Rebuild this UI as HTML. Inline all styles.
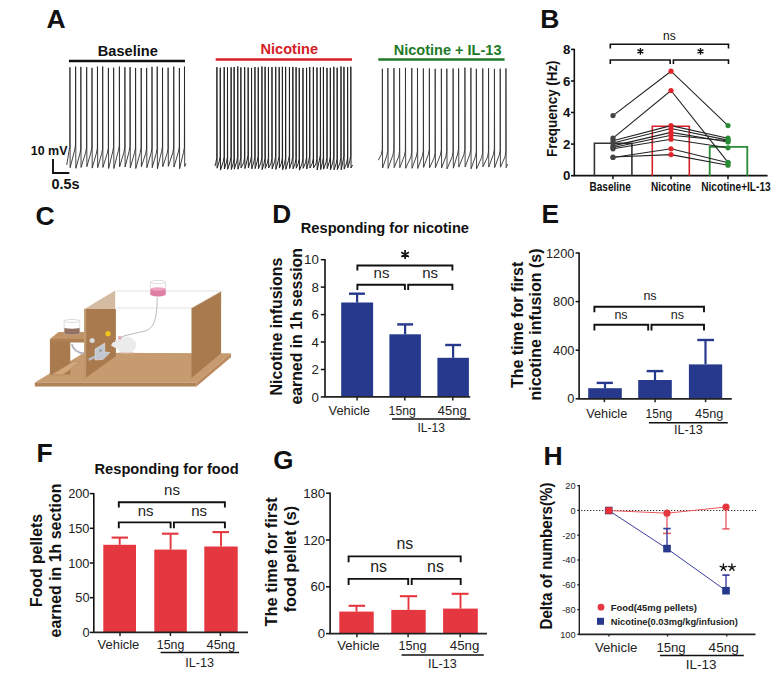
<!DOCTYPE html>
<html><head><meta charset="utf-8"><style>
html,body{margin:0;padding:0;background:#fff;width:777px;height:675px;overflow:hidden}
svg{display:block}
text{font-family:"Liberation Sans", sans-serif;}
</style></head><body>
<svg width="777" height="675" viewBox="0 0 777 675">
<rect width="777" height="675" fill="#fff"/>
<text x="46.5" y="28.4" font-size="26.5" font-weight="bold" text-anchor="start" fill="#111" >A</text>
<text x="97.8" y="55.5" font-size="15.3" font-weight="bold" text-anchor="start" fill="#111" textLength="60.0" lengthAdjust="spacingAndGlyphs" >Baseline</text>
<line x1="68.9" y1="61.0" x2="185.0" y2="61.0" stroke="#111" stroke-width="2.3" />
<text x="260.5" y="53.8" font-size="15.3" font-weight="bold" text-anchor="start" fill="#d42027" textLength="57.5" lengthAdjust="spacingAndGlyphs" >Nicotine</text>
<line x1="215.7" y1="59.5" x2="352.0" y2="59.5" stroke="#d42027" stroke-width="2.5" />
<text x="393.7" y="55.2" font-size="15.3" font-weight="bold" text-anchor="start" fill="#1e7a28" textLength="107.8" lengthAdjust="spacingAndGlyphs" >Nicotine + IL-13</text>
<line x1="378.3" y1="59.6" x2="504.6" y2="59.6" stroke="#1e7a28" stroke-width="2.5" />
<path d="M66.73,165.0 L68.94,151.5 L69.84,146.5 L69.94,67.3 L70.14,167.7 L74.63,150.1 L75.53,145.1 L75.63,66.6 L75.83,168.3 L79.86,154.0 L80.76,149.0 L80.86,66.9 L81.06,167.4 L85.66,152.6 L86.56,147.6 L86.66,67.2 L86.86,166.7 L90.99,152.1 L91.89,147.1 L91.99,67.8 L92.19,168.1 L96.46,153.0 L97.36,148.0 L97.46,66.6 L97.66,167.7 L101.70,153.5 L102.60,148.5 L102.70,66.5 L102.90,167.4 L107.40,152.9 L108.30,147.9 L108.40,67.8 L108.60,168.5 L112.66,151.8 L113.56,146.8 L113.66,67.7 L113.86,168.5 L118.40,150.5 L119.30,145.5 L119.40,66.6 L119.60,166.8 L123.90,152.5 L124.80,147.5 L124.90,67.2 L125.10,167.0 L129.08,151.4 L129.98,146.4 L130.08,67.1 L130.28,167.7 L134.58,152.7 L135.48,147.7 L135.58,67.9 L135.78,168.5 L140.19,152.7 L141.09,147.7 L141.19,68.0 L141.39,166.7 L145.65,153.6 L146.55,148.6 L146.65,67.9 L146.85,167.7 L151.01,153.3 L151.91,148.3 L152.01,66.8 L152.21,167.7 L156.21,153.4 L157.11,148.4 L157.21,66.6 L157.41,168.7 L161.54,151.6 L162.44,146.6 L162.54,67.7 L162.74,166.7 L167.12,153.5 L168.02,148.5 L168.12,67.7 L168.32,166.4 L172.76,152.9 L173.66,147.9 L173.76,66.6 L173.96,167.1 L178.38,152.0 L179.28,147.0 L179.38,68.0 L179.58,168.7 L183.49,152.4 L184.39,147.4 L184.49,66.6 L184.69,166.4 L186.00,163.5" stroke="#222" stroke-width="0.85" fill="none" stroke-linejoin="round"/>
<path d="M214.94,166.0 L215.92,162.4 L216.82,157.4 L216.92,67.1 L217.12,168.2 L219.26,161.3 L220.16,156.3 L220.26,67.8 L220.46,170.1 L223.21,161.8 L224.11,156.8 L224.21,67.1 L224.41,169.0 L226.49,162.2 L227.39,157.2 L227.49,67.4 L227.69,169.3 L230.11,161.7 L231.01,156.7 L231.11,67.3 L231.31,169.5 L233.12,163.9 L234.02,158.9 L234.12,67.0 L234.32,169.1 L236.74,161.7 L237.64,156.7 L237.74,66.5 L237.94,169.2 L239.86,162.5 L240.76,157.5 L240.86,67.4 L241.06,167.9 L243.66,162.7 L244.56,157.7 L244.66,67.2 L244.86,168.6 L247.15,160.1 L248.05,155.1 L248.15,67.6 L248.35,167.9 L250.56,161.0 L251.46,156.0 L251.56,67.9 L251.76,168.9 L253.95,161.5 L254.85,156.5 L254.95,67.0 L255.15,168.6 L257.25,161.2 L258.15,156.2 L258.25,67.4 L258.45,168.7 L260.93,162.3 L261.83,157.3 L261.93,66.5 L262.13,169.6 L264.09,163.2 L264.99,158.2 L265.09,66.8 L265.29,168.4 L267.45,162.8 L268.35,157.8 L268.45,67.2 L268.65,168.0 L270.97,163.3 L271.87,158.3 L271.97,67.0 L272.17,168.9 L274.72,161.3 L275.62,156.3 L275.72,66.8 L275.92,169.4 L278.18,160.9 L279.08,155.9 L279.18,67.2 L279.38,168.1 L281.40,163.2 L282.30,158.2 L282.40,66.8 L282.60,169.8 L284.63,163.2 L285.53,158.2 L285.63,66.9 L285.83,169.3 L288.44,160.5 L289.34,155.5 L289.44,67.0 L289.64,168.5 L291.87,161.4 L292.77,156.4 L292.87,66.9 L293.07,168.8 L295.08,163.7 L295.98,158.7 L296.08,67.1 L296.28,168.2 L298.26,163.5 L299.16,158.5 L299.26,67.9 L299.46,170.2 L301.96,163.7 L302.86,158.7 L302.96,67.9 L303.16,168.3 L305.58,162.7 L306.48,157.7 L306.58,67.8 L306.78,169.0 L308.74,160.9 L309.64,155.9 L309.74,67.0 L309.94,168.0 L312.36,163.2 L313.26,158.2 L313.36,66.9 L313.56,167.9 L315.98,163.7 L316.88,158.7 L316.98,67.5 L317.18,170.0 L319.42,160.1 L320.32,155.1 L320.42,67.4 L320.62,169.6 L322.42,162.7 L323.32,157.7 L323.42,66.9 L323.62,169.1 L326.00,162.4 L326.90,157.4 L327.00,67.9 L327.20,168.6 L329.34,161.9 L330.24,156.9 L330.34,67.8 L330.54,169.7 L332.83,162.1 L333.73,157.1 L333.83,66.8 L334.03,169.8 L336.16,163.7 L337.06,158.7 L337.16,67.7 L337.36,169.7 L339.99,162.5 L340.89,157.5 L340.99,66.5 L341.19,169.9 L342.96,161.1 L343.86,156.1 L343.96,66.9 L344.16,169.1 L346.62,163.1 L347.52,158.1 L347.62,67.2 L347.82,167.8 L349.83,160.5 L350.73,155.5 L350.83,66.7 L351.03,168.0 L352.50,165.0" stroke="#222" stroke-width="1.0" fill="none" stroke-linejoin="round"/>
<path d="M378.46,160.0 L381.38,154.3 L382.28,149.3 L382.38,68.8 L382.58,168.0 L386.89,155.4 L387.79,150.4 L387.89,68.0 L388.09,168.4 L392.96,154.8 L393.86,149.8 L393.96,68.0 L394.16,167.6 L398.59,156.9 L399.49,151.9 L399.59,68.3 L399.79,167.7 L404.47,155.5 L405.37,150.5 L405.47,67.8 L405.67,168.3 L410.79,157.2 L411.69,152.2 L411.79,68.1 L411.99,168.3 L416.49,156.0 L417.39,151.0 L417.49,68.1 L417.69,168.5 L422.39,155.8 L423.29,150.8 L423.39,68.5 L423.59,167.4 L428.36,154.3 L429.26,149.3 L429.36,68.5 L429.56,167.8 L434.20,157.7 L435.10,152.7 L435.20,68.8 L435.40,167.7 L440.39,155.0 L441.29,150.0 L441.39,68.7 L441.59,167.9 L445.83,156.6 L446.73,151.6 L446.83,68.7 L447.03,168.9 L452.13,156.9 L453.03,151.9 L453.13,68.5 L453.33,168.2 L457.62,154.0 L458.52,149.0 L458.62,68.4 L458.82,167.1 L463.93,154.4 L464.83,149.4 L464.93,67.6 L465.13,167.0 L469.90,154.1 L470.80,149.1 L470.90,67.8 L471.10,168.8 L475.35,156.7 L476.25,151.7 L476.35,68.8 L476.55,168.8 L481.75,157.2 L482.65,152.2 L482.75,68.4 L482.95,166.9 L487.55,156.9 L488.45,151.9 L488.55,68.3 L488.75,167.1 L493.44,154.2 L494.34,149.2 L494.44,68.9 L494.64,167.6 L499.23,155.0 L500.13,150.0 L500.23,68.7 L500.43,167.2 L504.95,157.0 L505.85,152.0 L505.95,68.4 L506.15,167.7 L507.50,164.0" stroke="#333" stroke-width="0.9" fill="none" stroke-linejoin="round"/>
<text x="30.8" y="155.4" font-size="12.5" font-weight="bold" text-anchor="start" fill="#111" textLength="36.7" lengthAdjust="spacingAndGlyphs" >10 mV</text>
<path d="M53,159 V173 H69.3" stroke="#111" stroke-width="1.9" fill="none" stroke-linejoin="miter"/>
<text x="51.4" y="188.8" font-size="14.5" font-weight="bold" text-anchor="start" fill="#111" textLength="28.1" lengthAdjust="spacingAndGlyphs" >0.5s</text>
<text x="540.3" y="28.1" font-size="26.5" font-weight="bold" text-anchor="start" fill="#111" >B</text>
<line x1="574.3" y1="48.8" x2="574.3" y2="175.7" stroke="#111" stroke-width="1.6" />
<line x1="573.5" y1="175.7" x2="767.6" y2="175.7" stroke="#111" stroke-width="1.8" />
<line x1="571.0" y1="175.7" x2="574.3" y2="175.7" stroke="#111" stroke-width="1.6" />
<text x="570.4" y="180.4" font-size="13.3" font-weight="bold" text-anchor="end" fill="#111" >0</text>
<line x1="571.0" y1="144.1" x2="574.3" y2="144.1" stroke="#111" stroke-width="1.6" />
<text x="570.4" y="148.8" font-size="13.3" font-weight="bold" text-anchor="end" fill="#111" >2</text>
<line x1="571.0" y1="112.5" x2="574.3" y2="112.5" stroke="#111" stroke-width="1.6" />
<text x="570.4" y="117.2" font-size="13.3" font-weight="bold" text-anchor="end" fill="#111" >4</text>
<line x1="571.0" y1="81.0" x2="574.3" y2="81.0" stroke="#111" stroke-width="1.6" />
<text x="570.4" y="85.7" font-size="13.3" font-weight="bold" text-anchor="end" fill="#111" >6</text>
<line x1="571.0" y1="49.4" x2="574.3" y2="49.4" stroke="#111" stroke-width="1.6" />
<text x="570.4" y="54.1" font-size="13.3" font-weight="bold" text-anchor="end" fill="#111" >8</text>
<text transform="translate(557.4,108.7) rotate(-90)" x="0" y="0" font-size="14" font-weight="bold" text-anchor="middle" fill="#111" textLength="96.5" lengthAdjust="spacingAndGlyphs">Frequency (Hz)</text>
<path d="M594.4,175.7 V143.3 H631.9 V175.7" stroke="#333" stroke-width="1.6" fill="none" />
<path d="M652.3,175.7 V126.2 H689.3 V175.7" stroke="#d42027" stroke-width="1.6" fill="none" />
<path d="M709.7,175.7 V146.9 H747.3 V175.7" stroke="#2a8a35" stroke-width="1.8" fill="none" />
<line x1="613.0" y1="175.7" x2="613.0" y2="179.3" stroke="#111" stroke-width="1.5" />
<line x1="671.0" y1="175.7" x2="671.0" y2="179.3" stroke="#111" stroke-width="1.5" />
<line x1="728.0" y1="175.7" x2="728.0" y2="179.3" stroke="#111" stroke-width="1.5" />
<text x="589.6" y="190.8" font-size="13" font-weight="bold" text-anchor="start" fill="#111" textLength="41.1" lengthAdjust="spacingAndGlyphs" >Baseline</text>
<text x="651.0" y="190.8" font-size="13" font-weight="bold" text-anchor="start" fill="#111" textLength="39.8" lengthAdjust="spacingAndGlyphs" >Nicotine</text>
<text x="701.2" y="190.8" font-size="13" font-weight="bold" text-anchor="start" fill="#111" textLength="69.5" lengthAdjust="spacingAndGlyphs" >Nicotine+IL-13</text>
<path d="M610.3,48.5 V44.3 H728.5 V48.5" stroke="#111" stroke-width="1.6" fill="none" stroke-linejoin="miter"/>
<text x="669.4" y="39.5" font-size="12" text-anchor="middle" fill="#111" >ns</text>
<path d="M610.3,64.1 V60 H670.2 V64.1" stroke="#111" stroke-width="1.6" fill="none" />
<path d="M673.4,64.1 V60 H728.5 V64.1" stroke="#111" stroke-width="1.6" fill="none" />
<path d="M640.40,48.00 L640.40,54.80 M637.46,49.70 L643.34,53.10 M637.46,53.10 L643.34,49.70 " stroke="#111" stroke-width="1.4" fill="none" />
<path d="M700.50,48.00 L700.50,54.80 M697.56,49.70 L703.44,53.10 M697.56,53.10 L703.44,49.70 " stroke="#111" stroke-width="1.4" fill="none" />
<path d="M613,115.6 L671,71.2 L728,125.6" stroke="#222" stroke-width="1.1" fill="none" />
<path d="M613,138.2 L671,90.5 L728,162.3" stroke="#222" stroke-width="1.1" fill="none" />
<path d="M613,140.7 L671,125.6 L728,138.2" stroke="#222" stroke-width="1.1" fill="none" />
<path d="M613,143.0 L671,128.5 L728,140.1" stroke="#222" stroke-width="1.1" fill="none" />
<path d="M613,145.9 L671,132.4 L728,142.0" stroke="#222" stroke-width="1.1" fill="none" />
<path d="M613,147.5 L671,135.3 L728,140.8" stroke="#222" stroke-width="1.1" fill="none" />
<path d="M613,148.8 L671,139.2 L728,147.8" stroke="#222" stroke-width="1.1" fill="none" />
<path d="M613,157.5 L671,148.8 L728,162.8" stroke="#222" stroke-width="1.1" fill="none" />
<path d="M613,157.0 L671,154.6 L728,165.2" stroke="#222" stroke-width="1.1" fill="none" />
<circle cx="613" cy="115.6" r="2.6" fill="#444"/>
<circle cx="671" cy="71.2" r="2.6" fill="#e0242b"/>
<circle cx="728" cy="125.6" r="2.6" fill="#2a8a35"/>
<circle cx="613" cy="138.2" r="2.6" fill="#444"/>
<circle cx="671" cy="90.5" r="2.6" fill="#e0242b"/>
<circle cx="728" cy="162.3" r="2.6" fill="#2a8a35"/>
<circle cx="613" cy="140.7" r="2.6" fill="#444"/>
<circle cx="671" cy="125.6" r="2.6" fill="#e0242b"/>
<circle cx="728" cy="138.2" r="2.6" fill="#2a8a35"/>
<circle cx="613" cy="143.0" r="2.6" fill="#444"/>
<circle cx="671" cy="128.5" r="2.6" fill="#e0242b"/>
<circle cx="728" cy="140.1" r="2.6" fill="#2a8a35"/>
<circle cx="613" cy="145.9" r="2.6" fill="#444"/>
<circle cx="671" cy="132.4" r="2.6" fill="#e0242b"/>
<circle cx="728" cy="142.0" r="2.6" fill="#2a8a35"/>
<circle cx="613" cy="147.5" r="2.6" fill="#444"/>
<circle cx="671" cy="135.3" r="2.6" fill="#e0242b"/>
<circle cx="728" cy="140.8" r="2.6" fill="#2a8a35"/>
<circle cx="613" cy="148.8" r="2.6" fill="#444"/>
<circle cx="671" cy="139.2" r="2.6" fill="#e0242b"/>
<circle cx="728" cy="147.8" r="2.6" fill="#2a8a35"/>
<circle cx="613" cy="157.5" r="2.6" fill="#444"/>
<circle cx="671" cy="148.8" r="2.6" fill="#e0242b"/>
<circle cx="728" cy="162.8" r="2.6" fill="#2a8a35"/>
<circle cx="613" cy="157.0" r="2.6" fill="#444"/>
<circle cx="671" cy="154.6" r="2.6" fill="#e0242b"/>
<circle cx="728" cy="165.2" r="2.6" fill="#2a8a35"/>
<text x="35.6" y="225.1" font-size="26.5" font-weight="bold" text-anchor="start" fill="#111" >C</text>
<polygon points="34.8,382.5 84,352.8 231,353.3 196.5,382.5" fill="#c59b6f"/>
<polygon points="34.8,382.5 196.5,382.5 196.5,386.5 34.8,386.5" fill="#b08258"/>
<polygon points="196.5,382.5 231,353.3 231,357.3 196.5,386.5" fill="#bb8a5e"/>
<line x1="116.0" y1="291.0" x2="221.0" y2="291.0" stroke="#d6d6da" stroke-width="0.7" />
<line x1="116.0" y1="308.0" x2="191.5" y2="308.0" stroke="#d6d6da" stroke-width="0.7" />
<polygon points="191.5,308 221.1,291.3 221.1,353.3 191.5,378" fill="#a87a4d"/>
<line x1="191.5" y1="308.0" x2="221.1" y2="291.3" stroke="#e8dccd" stroke-width="0.8" />
<polygon points="49.9,339.1 58.5,332 84.5,332 84.5,339.1" fill="#c09366"/>
<polygon points="49.9,339.1 84.5,339.1 84.5,342.6 49.9,342.6" fill="#ae7f52"/>
<polygon points="49.9,342 70.3,342 70.3,374.6 49.9,374.6" fill="#a87a4d"/>
<path d="M71.8,344 C73,350 78,353 85,353.5" stroke="#b4b6bc" stroke-width="1.8" fill="none" />
<polygon points="51.5,374.8 63,374.8 80.5,361.8 73.5,361.2" fill="#d0a77b" stroke="#b08458" stroke-width="0.6"/>
<path d="M64.2,321 V333.5 Q72,335.5 79.8,333.5 V321" fill="none" stroke="#c9c4c4" stroke-width="0.6"/>
<ellipse cx="72" cy="321" rx="7.8" ry="1.5" fill="none" stroke="#c9c4c4" stroke-width="0.6"/>
<path d="M64.4,328 V333.5 Q72,335.5 79.6,333.5 V328 Q72,329.5 64.4,328 Z" fill="#957064"/>
<polygon points="84.5,309 115.2,290.6 115.2,309" fill="#d4bca2"/>
<polygon points="84.5,309 115.9,309 115.9,356 84.5,378.8" fill="#a87a4d"/>
<polygon points="84.2,309 86.2,309 86.2,377.5 84.2,378.8" fill="#c29a70"/>
<circle cx="92.2" cy="340.5" r="2.6" fill="#dedede" stroke="#a89a8a" stroke-width="0.5"/>
<circle cx="108" cy="333.7" r="2.6" fill="#f0c419"/>
<polygon points="95,349 104.8,343 104.8,352 110,352.5 103,359.5 95,360" fill="#c3c8d0" stroke="#e4e8ee" stroke-width="0.5"/>
<polygon points="88.5,358.5 95,355.5 95,358 89,361" fill="#b7bcc6"/>
<circle cx="100.5" cy="350.5" r="1.2" fill="#8d929c"/>
<path d="M150.4,282 V294 Q158,297.5 165.6,294 V282" fill="none" stroke="#c9c9cf" stroke-width="0.6"/>
<ellipse cx="158" cy="282" rx="7.6" ry="1.6" fill="none" stroke="#c9c9cf" stroke-width="0.6"/>
<path d="M150.4,289 V295 Q158,298 165.6,295 V289 Z" fill="#de7ea3"/>
<ellipse cx="158" cy="289" rx="7.6" ry="1.8" fill="#eea4c0"/>
<path d="M157.2,297.5 C157,315 155.5,328 145,331 C136,333.5 128,334 120,337.5" stroke="#9c9ca2" stroke-width="0.7" fill="none" />
<ellipse cx="126.3" cy="345" rx="9.8" ry="8.4" fill="#ebebeb"/>
<path d="M111,345.5 Q114,339 121,338.5 L124,349 Q117,350 111,345.5 Z" fill="#ebebeb"/>
<ellipse cx="119.8" cy="337.8" rx="1.9" ry="1.9" fill="#e3a9ae"/>
<circle cx="114.6" cy="341.5" r="0.6" fill="#8a3b3b"/>
<path d="M119,353 H134" stroke="#e0b0a8" stroke-width="1" />
<text x="272.3" y="222.9" font-size="26.2" font-weight="bold" text-anchor="start" fill="#111" >D</text>
<text x="300.8" y="232.7" font-size="15.3" font-weight="bold" text-anchor="start" fill="#111" textLength="168.2" lengthAdjust="spacingAndGlyphs" >Responding for nicotine</text>
<line x1="325.0" y1="259.1" x2="325.0" y2="396.9" stroke="#111" stroke-width="1.6" />
<line x1="320.8" y1="396.9" x2="325.0" y2="396.9" stroke="#111" stroke-width="1.5" />
<text x="318.8" y="401.5" font-size="13.3" text-anchor="end" fill="#222" >0</text>
<line x1="320.8" y1="369.5" x2="325.0" y2="369.5" stroke="#111" stroke-width="1.5" />
<text x="318.8" y="374.1" font-size="13.3" text-anchor="end" fill="#222" >2</text>
<line x1="320.8" y1="342.0" x2="325.0" y2="342.0" stroke="#111" stroke-width="1.5" />
<text x="318.8" y="346.6" font-size="13.3" text-anchor="end" fill="#222" >4</text>
<line x1="320.8" y1="314.6" x2="325.0" y2="314.6" stroke="#111" stroke-width="1.5" />
<text x="318.8" y="319.2" font-size="13.3" text-anchor="end" fill="#222" >6</text>
<line x1="320.8" y1="287.1" x2="325.0" y2="287.1" stroke="#111" stroke-width="1.5" />
<text x="318.8" y="291.7" font-size="13.3" text-anchor="end" fill="#222" >8</text>
<line x1="320.8" y1="259.7" x2="325.0" y2="259.7" stroke="#111" stroke-width="1.5" />
<text x="318.8" y="264.3" font-size="13.3" text-anchor="end" fill="#222" >10</text>
<text transform="translate(281.6,326.6) rotate(-90)" x="0" y="0" font-size="15.8" font-weight="bold" text-anchor="middle" fill="#111" textLength="137.7" lengthAdjust="spacingAndGlyphs">Nicotine infusions</text>
<text transform="translate(301.7,326.3) rotate(-90)" x="0" y="0" font-size="15.8" font-weight="bold" text-anchor="middle" fill="#111" textLength="156.5" lengthAdjust="spacingAndGlyphs">earned in 1h session</text>
<rect x="341.2" y="302.5" width="31.9" height="94.4" fill="#26398c"/>
<line x1="357.1" y1="302.5" x2="357.1" y2="293.7" stroke="#26398c" stroke-width="2.2" />
<line x1="349.0" y1="293.7" x2="364.9" y2="293.7" stroke="#26398c" stroke-width="2.4" />
<rect x="389.4" y="334.3" width="31.5" height="62.6" fill="#26398c"/>
<line x1="405.1" y1="334.3" x2="405.1" y2="324.4" stroke="#26398c" stroke-width="2.2" />
<line x1="397.2" y1="324.4" x2="413.1" y2="324.4" stroke="#26398c" stroke-width="2.4" />
<rect x="437.4" y="357.8" width="31.5" height="39.1" fill="#26398c"/>
<line x1="453.1" y1="357.8" x2="453.1" y2="345.0" stroke="#26398c" stroke-width="2.2" />
<line x1="445.2" y1="345.0" x2="461.1" y2="345.0" stroke="#26398c" stroke-width="2.4" />
<line x1="324.2" y1="396.9" x2="470.2" y2="396.9" stroke="#222" stroke-width="1.7" />
<line x1="357.1" y1="396.9" x2="357.1" y2="400.6" stroke="#222" stroke-width="1.5" />
<line x1="404.8" y1="396.9" x2="404.8" y2="400.6" stroke="#222" stroke-width="1.5" />
<line x1="452.8" y1="396.9" x2="452.8" y2="400.6" stroke="#222" stroke-width="1.5" />
<text x="328.6" y="415.0" font-size="12.5" text-anchor="start" fill="#222" textLength="41.4" lengthAdjust="spacingAndGlyphs" >Vehicle</text>
<text x="388.6" y="415.0" font-size="12.5" text-anchor="start" fill="#222" textLength="27.2" lengthAdjust="spacingAndGlyphs" >15ng</text>
<text x="437.8" y="415.0" font-size="12.5" text-anchor="start" fill="#222" textLength="28.8" lengthAdjust="spacingAndGlyphs" >45ng</text>
<line x1="392.0" y1="419.1" x2="470.3" y2="419.1" stroke="#111" stroke-width="1.5" />
<text x="417.4" y="431.5" font-size="12.5" text-anchor="start" fill="#222" textLength="27.6" lengthAdjust="spacingAndGlyphs" >IL-13</text>
<path d="M357.4,270.6 V265.5 H452.4 V270.6" stroke="#111" stroke-width="1.9" fill="none" stroke-linejoin="miter"/>
<path d="M405.10,250.10 L405.10,258.90 M401.29,252.30 L408.91,256.70 M401.29,256.70 L408.91,252.30 " stroke="#111" stroke-width="1.7" fill="none" />
<text x="381.5" y="278.2" font-size="15" text-anchor="middle" fill="#222" >ns</text>
<text x="430.2" y="278.2" font-size="15" text-anchor="middle" fill="#222" >ns</text>
<path d="M357.4,290.0 V284.7 H404.9 V290.0" stroke="#111" stroke-width="1.9" fill="none" stroke-linejoin="miter"/>
<path d="M408.2,290.0 V284.7 H452.4 V290.0" stroke="#111" stroke-width="1.9" fill="none" stroke-linejoin="miter"/>
<text x="541.4" y="223.3" font-size="26.3" font-weight="bold" text-anchor="start" fill="#111" >E</text>
<line x1="579.1" y1="252.4" x2="579.1" y2="398.8" stroke="#111" stroke-width="1.6" />
<line x1="575.6" y1="398.8" x2="579.1" y2="398.8" stroke="#111" stroke-width="1.5" />
<text x="574.4" y="403.3" font-size="12.8" text-anchor="end" fill="#222" >0</text>
<line x1="575.6" y1="350.2" x2="579.1" y2="350.2" stroke="#111" stroke-width="1.5" />
<text x="574.4" y="354.7" font-size="12.8" text-anchor="end" fill="#222" >400</text>
<line x1="575.6" y1="301.6" x2="579.1" y2="301.6" stroke="#111" stroke-width="1.5" />
<text x="574.4" y="306.1" font-size="12.8" text-anchor="end" fill="#222" >800</text>
<line x1="575.6" y1="253.0" x2="579.1" y2="253.0" stroke="#111" stroke-width="1.5" />
<text x="574.4" y="257.5" font-size="12.8" text-anchor="end" fill="#222" >1200</text>
<text transform="translate(522.9,324.9) rotate(-90)" x="0" y="0" font-size="15.9" font-weight="bold" text-anchor="middle" fill="#111" textLength="126.4" lengthAdjust="spacingAndGlyphs">The time for first</text>
<text transform="translate(541.0,324.5) rotate(-90)" x="0" y="0" font-size="15.9" font-weight="bold" text-anchor="middle" fill="#111" textLength="152.1" lengthAdjust="spacingAndGlyphs">nicotine infusion (s)</text>
<rect x="588.2" y="388.2" width="33.6" height="10.6" fill="#26398c"/>
<line x1="605.0" y1="388.2" x2="605.0" y2="382.9" stroke="#26398c" stroke-width="2.2" />
<line x1="596.7" y1="382.9" x2="612.9" y2="382.9" stroke="#26398c" stroke-width="2.4" />
<rect x="638.2" y="380.0" width="33.6" height="18.8" fill="#26398c"/>
<line x1="655.0" y1="380.0" x2="655.0" y2="371.1" stroke="#26398c" stroke-width="2.2" />
<line x1="646.7" y1="371.1" x2="663.3" y2="371.1" stroke="#26398c" stroke-width="2.4" />
<rect x="688.9" y="364.4" width="33.3" height="34.4" fill="#26398c"/>
<line x1="705.5" y1="364.4" x2="705.5" y2="340.0" stroke="#26398c" stroke-width="2.2" />
<line x1="697.3" y1="340.0" x2="714.0" y2="340.0" stroke="#26398c" stroke-width="2.4" />
<line x1="578.3" y1="398.8" x2="731.8" y2="398.8" stroke="#222" stroke-width="1.7" />
<line x1="604.4" y1="398.8" x2="604.4" y2="402.2" stroke="#222" stroke-width="1.5" />
<line x1="655.1" y1="398.8" x2="655.1" y2="402.2" stroke="#222" stroke-width="1.5" />
<line x1="705.6" y1="398.8" x2="705.6" y2="402.2" stroke="#222" stroke-width="1.5" />
<text x="586.2" y="417.8" font-size="12.5" text-anchor="start" fill="#222" textLength="41.1" lengthAdjust="spacingAndGlyphs" >Vehicle</text>
<text x="645.6" y="417.8" font-size="12.5" text-anchor="start" fill="#222" textLength="26.6" lengthAdjust="spacingAndGlyphs" >15ng</text>
<text x="695.1" y="417.8" font-size="12.5" text-anchor="start" fill="#222" textLength="28.2" lengthAdjust="spacingAndGlyphs" >45ng</text>
<line x1="648.9" y1="422.7" x2="727.8" y2="422.7" stroke="#111" stroke-width="1.5" />
<text x="674.0" y="434.4" font-size="12.5" text-anchor="start" fill="#222" textLength="28.9" lengthAdjust="spacingAndGlyphs" >IL-13</text>
<path d="M594.4,312.2 V306.7 H704.0 V312.2" stroke="#111" stroke-width="1.9" fill="none" stroke-linejoin="miter"/>
<text x="650.0" y="300.0" font-size="12.5" text-anchor="middle" fill="#222" >ns</text>
<text x="621.0" y="318.9" font-size="12.5" text-anchor="middle" fill="#222" >ns</text>
<text x="677.3" y="318.9" font-size="12.5" text-anchor="middle" fill="#222" >ns</text>
<path d="M594.4,330.5 V324.8 H648.2 V330.5" stroke="#111" stroke-width="1.9" fill="none" stroke-linejoin="miter"/>
<path d="M651.5,330.5 V324.8 H704.0 V330.5" stroke="#111" stroke-width="1.9" fill="none" stroke-linejoin="miter"/>
<text x="36.6" y="462.4" font-size="26.5" font-weight="bold" text-anchor="start" fill="#111" >F</text>
<text x="94.5" y="473.5" font-size="15.5" font-weight="bold" text-anchor="start" fill="#111" textLength="144.2" lengthAdjust="spacingAndGlyphs" >Responding for food</text>
<line x1="93.8" y1="493.0" x2="93.8" y2="632.4" stroke="#111" stroke-width="1.6" />
<line x1="89.8" y1="632.4" x2="93.8" y2="632.4" stroke="#111" stroke-width="1.5" />
<text x="89.5" y="636.9" font-size="12.8" text-anchor="end" fill="#222" >0</text>
<line x1="89.8" y1="597.7" x2="93.8" y2="597.7" stroke="#111" stroke-width="1.5" />
<text x="89.5" y="602.2" font-size="12.8" text-anchor="end" fill="#222" >50</text>
<line x1="89.8" y1="563.0" x2="93.8" y2="563.0" stroke="#111" stroke-width="1.5" />
<text x="89.5" y="567.5" font-size="12.8" text-anchor="end" fill="#222" >100</text>
<line x1="89.8" y1="528.3" x2="93.8" y2="528.3" stroke="#111" stroke-width="1.5" />
<text x="89.5" y="532.8" font-size="12.8" text-anchor="end" fill="#222" >150</text>
<line x1="89.8" y1="493.6" x2="93.8" y2="493.6" stroke="#111" stroke-width="1.5" />
<text x="89.5" y="498.1" font-size="12.8" text-anchor="end" fill="#222" >200</text>
<text transform="translate(42.3,560.5) rotate(-90)" x="0" y="0" font-size="15.7" font-weight="bold" text-anchor="middle" fill="#111" textLength="92.9" lengthAdjust="spacingAndGlyphs">Food pellets</text>
<text transform="translate(61.0,560.5) rotate(-90)" x="0" y="0" font-size="15.8" font-weight="bold" text-anchor="middle" fill="#111" textLength="153.8" lengthAdjust="spacingAndGlyphs">earned in 1h section</text>
<rect x="103.3" y="544.8" width="32.7" height="87.6" fill="#e5373f"/>
<line x1="119.7" y1="544.8" x2="119.7" y2="537.6" stroke="#e5373f" stroke-width="1.9" />
<line x1="111.6" y1="537.6" x2="128.0" y2="537.6" stroke="#e5373f" stroke-width="2.1" />
<rect x="154.3" y="549.6" width="32.5" height="82.8" fill="#e5373f"/>
<line x1="170.6" y1="549.6" x2="170.6" y2="533.7" stroke="#e5373f" stroke-width="1.9" />
<line x1="162.0" y1="533.7" x2="178.5" y2="533.7" stroke="#e5373f" stroke-width="2.1" />
<rect x="204.3" y="546.5" width="33.4" height="85.9" fill="#e5373f"/>
<line x1="221.0" y1="546.5" x2="221.0" y2="532.1" stroke="#e5373f" stroke-width="1.9" />
<line x1="212.5" y1="532.1" x2="229.0" y2="532.1" stroke="#e5373f" stroke-width="2.1" />
<line x1="93.0" y1="632.4" x2="248.0" y2="632.4" stroke="#222" stroke-width="1.7" />
<line x1="120.0" y1="632.4" x2="120.0" y2="636.0" stroke="#222" stroke-width="1.5" />
<line x1="170.4" y1="632.4" x2="170.4" y2="636.0" stroke="#222" stroke-width="1.5" />
<line x1="220.4" y1="632.4" x2="220.4" y2="636.0" stroke="#222" stroke-width="1.5" />
<text x="97.6" y="648.9" font-size="13" text-anchor="start" fill="#222" textLength="41.7" lengthAdjust="spacingAndGlyphs" >Vehicle</text>
<text x="156.8" y="648.9" font-size="13" text-anchor="start" fill="#222" textLength="27.5" lengthAdjust="spacingAndGlyphs" >15ng</text>
<text x="206.5" y="648.9" font-size="13" text-anchor="start" fill="#222" textLength="28.7" lengthAdjust="spacingAndGlyphs" >45ng</text>
<line x1="160.6" y1="652.5" x2="239.1" y2="652.5" stroke="#111" stroke-width="1.5" />
<text x="185.2" y="666.7" font-size="13" text-anchor="start" fill="#222" textLength="28.7" lengthAdjust="spacingAndGlyphs" >IL-13</text>
<path d="M118.8,507.4 V502.2 H224.9 V507.4" stroke="#111" stroke-width="1.9" fill="none" stroke-linejoin="miter"/>
<text x="172.0" y="494.6" font-size="15" text-anchor="middle" fill="#222" >ns</text>
<text x="145.6" y="515.6" font-size="15" text-anchor="middle" fill="#222" >ns</text>
<text x="199.1" y="515.6" font-size="15" text-anchor="middle" fill="#222" >ns</text>
<path d="M118.8,528.2 V522.4 H170.6 V528.2" stroke="#111" stroke-width="1.9" fill="none" stroke-linejoin="miter"/>
<path d="M173.9,528.2 V522.4 H224.9 V528.2" stroke="#111" stroke-width="1.9" fill="none" stroke-linejoin="miter"/>
<text x="273.3" y="468.8" font-size="26" font-weight="bold" text-anchor="start" fill="#111" >G</text>
<line x1="330.1" y1="492.6" x2="330.1" y2="633.6" stroke="#111" stroke-width="1.6" />
<line x1="326.0" y1="633.6" x2="330.1" y2="633.6" stroke="#111" stroke-width="1.5" />
<text x="325.2" y="638.2" font-size="13.2" text-anchor="end" fill="#222" >0</text>
<line x1="326.0" y1="586.8" x2="330.1" y2="586.8" stroke="#111" stroke-width="1.5" />
<text x="325.2" y="591.4" font-size="13.2" text-anchor="end" fill="#222" >60</text>
<line x1="326.0" y1="540.0" x2="330.1" y2="540.0" stroke="#111" stroke-width="1.5" />
<text x="325.2" y="544.6" font-size="13.2" text-anchor="end" fill="#222" >120</text>
<line x1="326.0" y1="493.2" x2="330.1" y2="493.2" stroke="#111" stroke-width="1.5" />
<text x="325.2" y="497.8" font-size="13.2" text-anchor="end" fill="#222" >180</text>
<text transform="translate(276.6,561.8) rotate(-90)" x="0" y="0" font-size="16.3" font-weight="bold" text-anchor="middle" fill="#111" textLength="129.2" lengthAdjust="spacingAndGlyphs">The time for first</text>
<text transform="translate(296.1,559.1) rotate(-90)" x="0" y="0" font-size="16.3" font-weight="bold" text-anchor="middle" fill="#111" textLength="106.4" lengthAdjust="spacingAndGlyphs">food pellet (s)</text>
<rect x="339.3" y="611.6" width="34.4" height="22.0" fill="#e5373f"/>
<line x1="356.5" y1="611.6" x2="356.5" y2="605.8" stroke="#e5373f" stroke-width="1.9" />
<line x1="348.6" y1="605.8" x2="365.1" y2="605.8" stroke="#e5373f" stroke-width="2.1" />
<rect x="391.3" y="609.9" width="34.4" height="23.7" fill="#e5373f"/>
<line x1="408.5" y1="609.9" x2="408.5" y2="596.2" stroke="#e5373f" stroke-width="1.9" />
<line x1="399.9" y1="596.2" x2="417.1" y2="596.2" stroke="#e5373f" stroke-width="2.1" />
<rect x="443.1" y="608.6" width="34.7" height="25.0" fill="#e5373f"/>
<line x1="460.5" y1="608.6" x2="460.5" y2="593.8" stroke="#e5373f" stroke-width="1.9" />
<line x1="451.7" y1="593.8" x2="468.6" y2="593.8" stroke="#e5373f" stroke-width="2.1" />
<line x1="329.3" y1="633.6" x2="486.9" y2="633.6" stroke="#222" stroke-width="1.7" />
<line x1="356.9" y1="633.6" x2="356.9" y2="637.2" stroke="#222" stroke-width="1.5" />
<line x1="408.1" y1="633.6" x2="408.1" y2="637.2" stroke="#222" stroke-width="1.5" />
<line x1="460.2" y1="633.6" x2="460.2" y2="637.2" stroke="#222" stroke-width="1.5" />
<text x="337.2" y="649.8" font-size="13.2" text-anchor="start" fill="#222" textLength="42.5" lengthAdjust="spacingAndGlyphs" >Vehicle</text>
<text x="398.4" y="649.8" font-size="13.2" text-anchor="start" fill="#222" textLength="28.3" lengthAdjust="spacingAndGlyphs" >15ng</text>
<text x="449.8" y="649.5" font-size="13.2" text-anchor="start" fill="#222" textLength="29.5" lengthAdjust="spacingAndGlyphs" >45ng</text>
<line x1="401.6" y1="655.0" x2="483.8" y2="655.0" stroke="#111" stroke-width="1.5" />
<text x="428.0" y="667.5" font-size="13.2" text-anchor="start" fill="#222" textLength="28.8" lengthAdjust="spacingAndGlyphs" >IL-13</text>
<path d="M348.6,562.2 V556.4 H460.7 V562.2" stroke="#111" stroke-width="1.9" fill="none" stroke-linejoin="miter"/>
<text x="404.8" y="549.3" font-size="15.9" text-anchor="middle" fill="#222" >ns</text>
<text x="378.6" y="571.9" font-size="15.9" text-anchor="middle" fill="#222" >ns</text>
<text x="435.5" y="571.9" font-size="15.9" text-anchor="middle" fill="#222" >ns</text>
<path d="M348.6,584.9 V578.9 H408.2 V584.9" stroke="#111" stroke-width="1.9" fill="none" stroke-linejoin="miter"/>
<path d="M411.7,584.9 V578.9 H460.7 V584.9" stroke="#111" stroke-width="1.9" fill="none" stroke-linejoin="miter"/>
<text x="543.4" y="465.3" font-size="26.5" font-weight="bold" text-anchor="start" fill="#111" >H</text>
<line x1="579.3" y1="485.1" x2="579.3" y2="634.4" stroke="#222" stroke-width="1.4" />
<line x1="577.3" y1="485.6" x2="579.3" y2="485.6" stroke="#222" stroke-width="1.3" />
<text x="575.5" y="488.9" font-size="9.2" text-anchor="end" fill="#222" >20</text>
<line x1="577.3" y1="510.4" x2="579.3" y2="510.4" stroke="#222" stroke-width="1.3" />
<text x="575.5" y="513.7" font-size="9.2" text-anchor="end" fill="#222" >0</text>
<line x1="577.3" y1="535.2" x2="579.3" y2="535.2" stroke="#222" stroke-width="1.3" />
<text x="575.5" y="538.5" font-size="9.2" text-anchor="end" fill="#222" >-20</text>
<line x1="577.3" y1="560.0" x2="579.3" y2="560.0" stroke="#222" stroke-width="1.3" />
<text x="575.5" y="563.3" font-size="9.2" text-anchor="end" fill="#222" >-40</text>
<line x1="577.3" y1="584.8" x2="579.3" y2="584.8" stroke="#222" stroke-width="1.3" />
<text x="575.5" y="588.1" font-size="9.2" text-anchor="end" fill="#222" >-60</text>
<line x1="577.3" y1="609.6" x2="579.3" y2="609.6" stroke="#222" stroke-width="1.3" />
<text x="575.5" y="612.9" font-size="9.2" text-anchor="end" fill="#222" >-80</text>
<line x1="577.3" y1="634.4" x2="579.3" y2="634.4" stroke="#222" stroke-width="1.3" />
<text x="575.5" y="637.7" font-size="9.2" text-anchor="end" fill="#222" >100</text>
<text transform="translate(552.2,556.0) rotate(-90)" x="0" y="0" font-size="16" font-weight="bold" text-anchor="middle" fill="#111" textLength="147.0" lengthAdjust="spacingAndGlyphs">Delta of numbers(%)</text>
<line x1="578.6" y1="634.4" x2="755.5" y2="634.4" stroke="#222" stroke-width="1.6" />
<line x1="608.9" y1="634.4" x2="608.9" y2="636.5" stroke="#222" stroke-width="1.3" />
<line x1="667.5" y1="634.4" x2="667.5" y2="636.5" stroke="#222" stroke-width="1.3" />
<line x1="726.8" y1="634.4" x2="726.8" y2="636.5" stroke="#222" stroke-width="1.3" />
<line x1="581.0" y1="510.5" x2="756.0" y2="510.5" stroke="#333" stroke-width="1.1" stroke-dasharray="1.3,1.7"/>
<path d="M608.8,510.5 L667,513.2 L726,507" stroke="#e8575c" stroke-width="1.0" fill="none" />
<line x1="667.0" y1="513.2" x2="667.0" y2="533.4" stroke="#e8575c" stroke-width="1.3" />
<line x1="663.0" y1="533.4" x2="671.0" y2="533.4" stroke="#e8575c" stroke-width="1.5" />
<line x1="726.0" y1="507.0" x2="726.0" y2="528.9" stroke="#e8575c" stroke-width="1.3" />
<line x1="722.4" y1="528.9" x2="729.6" y2="528.9" stroke="#e8575c" stroke-width="1.5" />
<path d="M608.8,510.5 L667,548.6 L726,590.7" stroke="#3b40a0" stroke-width="1.0" fill="none" />
<line x1="667.0" y1="548.6" x2="667.0" y2="528.6" stroke="#3b40a0" stroke-width="1.4" />
<line x1="663.3" y1="528.6" x2="670.7" y2="528.6" stroke="#3b40a0" stroke-width="1.7" />
<line x1="726.0" y1="590.7" x2="726.0" y2="575.1" stroke="#3b40a0" stroke-width="1.4" />
<line x1="722.4" y1="575.1" x2="729.6" y2="575.1" stroke="#3b40a0" stroke-width="1.7" />
<circle cx="667" cy="513.2" r="3.6" fill="#e5373f"/>
<circle cx="726" cy="507" r="3.6" fill="#e5373f"/>
<rect x="722.2" y="586.9" width="7.6" height="7.6" fill="#26398c"/>
<rect x="663.2" y="544.8" width="7.6" height="7.6" fill="#26398c"/>
<rect x="605.2" y="507" width="7" height="7" fill="#ee2f36" stroke="#4a3278" stroke-width="0.6"/>
<path d="M723.40,567.40 L723.40,563.90 M723.40,567.40 L726.73,566.32 M723.40,567.40 L725.46,570.23 M723.40,567.40 L721.34,570.23 M723.40,567.40 L720.07,566.32 " stroke="#111" stroke-width="1.35" fill="none" stroke-linecap="round"/>
<path d="M731.90,567.40 L731.90,563.90 M731.90,567.40 L735.23,566.32 M731.90,567.40 L733.96,570.23 M731.90,567.40 L729.84,570.23 M731.90,567.40 L728.57,566.32 " stroke="#111" stroke-width="1.35" fill="none" stroke-linecap="round"/>
<circle cx="601" cy="607.2" r="3.4" fill="#e5373f"/>
<text x="610.8" y="610.6" font-size="9.4" font-weight="bold" text-anchor="start" fill="#222" textLength="86.1" lengthAdjust="spacingAndGlyphs" >Food(45mg pellets)</text>
<rect x="597" y="617.8" width="7" height="7" fill="#26398c"/>
<text x="610.8" y="624.6" font-size="9.4" font-weight="bold" text-anchor="start" fill="#222" textLength="127.1" lengthAdjust="spacingAndGlyphs" >Nicotine(0.03mg/kg/infusion)</text>
<text x="594.9" y="652.0" font-size="13.2" text-anchor="start" fill="#222" textLength="42.5" lengthAdjust="spacingAndGlyphs" >Vehicle</text>
<text x="656.4" y="652.0" font-size="13.2" text-anchor="start" fill="#222" textLength="29.3" lengthAdjust="spacingAndGlyphs" >15ng</text>
<text x="708.6" y="652.0" font-size="13.2" text-anchor="start" fill="#222" textLength="30.2" lengthAdjust="spacingAndGlyphs" >45ng</text>
<line x1="660.0" y1="655.6" x2="743.8" y2="655.6" stroke="#111" stroke-width="1.5" />
<text x="685.7" y="669.0" font-size="13.2" text-anchor="start" fill="#222" textLength="30.7" lengthAdjust="spacingAndGlyphs" >IL-13</text>
</svg>
</body></html>
